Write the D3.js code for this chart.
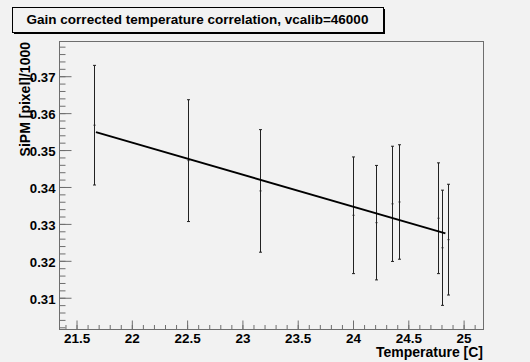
<!DOCTYPE html>
<html>
<head>
<meta charset="utf-8">
<script src="https://cdn.jsdelivr.net/npm/d3@7"></script>
<style>
  html, body { margin: 0; padding: 0; background: #f2f2f2; }
  svg { display: block; font-family: "Liberation Sans", Arial, sans-serif; font-weight: bold; }
</style>
</head>
<body>
<svg id="chart"></svg>
<script>
// measured points (temperature, gain corrected SiPM signal, error)
const temperature = [21.66, 22.51, 23.16, 24.00, 24.21, 24.36, 24.42, 24.77, 24.81, 24.86];
const sipm = [0.3566, 0.3470, 0.3388, 0.3322, 0.3302, 0.3353, 0.3358, 0.3314, 0.3234, 0.3256];
const sipmErr = [0.0162, 0.0165, 0.0166, 0.0158, 0.0155, 0.0156, 0.0155, 0.0150, 0.0156, 0.0150];

// linear fit drawn over the data range
const fitSlope = -0.00868;
const fitIntercept = 0.5429;
const fitRange = [21.68, 24.84];

const xTicks = [21.5, 22, 22.5, 23, 23.5, 24, 24.5, 25];
const yTicks = [0.31, 0.32, 0.33, 0.34, 0.35, 0.36, 0.37];
const xDomain = [21.346, 25.18];
const yDomain = [0.3014, 0.3794];

const title = "Gain corrected temperature correlation, vcalib=46000";
const xTitle = "Temperature [C]";
const yTitle = "SiPM [pixel]/1000";

const width = 530, height = 362;
const frame = {left: 59, top: 41, right: 483, bottom: 329};

const svg = d3.select("#chart").attr("width", width).attr("height", height);
svg.append("rect").attr("width", width).attr("height", height).attr("fill", "#f2f2f2");

const x = d3.scaleLinear().domain(xDomain).range([frame.left, frame.right]);
const y = d3.scaleLinear().domain(yDomain).range([frame.bottom, frame.top]);

// frame
svg.append("rect")
    .attr("x", frame.left + 0.5).attr("y", frame.top + 0.5)
    .attr("width", frame.right - frame.left).attr("height", frame.bottom - frame.top)
    .attr("fill", "none").attr("stroke", "#6e6e6e").attr("stroke-width", 1);

// minor ticks
const xMinor = d3.range(214, 252).map(d => d / 10).filter(d => d > xDomain[0] && d < xDomain[1]);
const yMinor = d3.range(151, 190).map(d => d / 500).filter(d => d > yDomain[0] && d < yDomain[1]);

const xAxisG = svg.append("g").attr("transform", `translate(0.5,${frame.bottom + 0.5})`);
xAxisG.append("g").call(d3.axisBottom(x).tickValues(xMinor).tickSize(-4.5).tickFormat(""));
const xMajor = xAxisG.append("g").call(d3.axisBottom(x).tickValues(xTicks).tickSize(-9).tickPadding(3.5)
    .tickFormat(d3.format("")));

const yAxisG = svg.append("g").attr("transform", `translate(${frame.left + 0.5},0.5)`);
yAxisG.append("g").call(d3.axisLeft(y).tickValues(yMinor).tickSize(-6).tickFormat(""));
const yMajor = yAxisG.append("g").call(d3.axisLeft(y).tickValues(yTicks).tickSize(-12).tickPadding(4)
    .tickFormat(d3.format(".2f")));

svg.selectAll(".domain").remove();
svg.selectAll(".tick line").attr("stroke", "#6e6e6e");
svg.selectAll(".tick text")
    .attr("fill", "#000").attr("font-weight", "bold")
    .attr("font-family", "'Liberation Sans', Arial, sans-serif");
xMajor.selectAll(".tick text").attr("font-size", 13.5);
yMajor.selectAll(".tick text").attr("font-size", 13.2).attr("dy", "0.42em");

// axis titles
svg.append("text")
    .attr("x", frame.right).attr("y", 357)
    .attr("text-anchor", "end").attr("font-size", 14)
    .text(xTitle);
svg.append("text")
    .attr("transform", `translate(30,${frame.top + 1}) rotate(-90)`)
    .attr("text-anchor", "end").attr("font-size", 14)
    .text(yTitle);

// error bars
const pts = temperature.map((t, i) => ({t: t, v: sipm[i], e: sipmErr[i]}));
const bars = svg.append("g").attr("stroke", "#222").attr("stroke-width", 1);
pts.forEach(d => {
    const cx = Math.round(x(d.t)) + 0.5;
    bars.append("line").attr("x1", cx).attr("x2", cx).attr("y1", y(d.v + d.e)).attr("y2", y(d.v - d.e));
    bars.append("line").attr("x1", cx - 1.5).attr("x2", cx + 1.5).attr("y1", y(d.v + d.e)).attr("y2", y(d.v + d.e));
    bars.append("line").attr("x1", cx - 1.5).attr("x2", cx + 1.5).attr("y1", y(d.v - d.e)).attr("y2", y(d.v - d.e));
    bars.append("line").attr("x1", cx - 1).attr("x2", cx + 1).attr("y1", y(d.v)).attr("y2", y(d.v));
});

// fit line
svg.append("line")
    .attr("x1", x(fitRange[0])).attr("y1", y(fitIntercept + fitSlope * fitRange[0]))
    .attr("x2", x(fitRange[1])).attr("y2", y(fitIntercept + fitSlope * fitRange[1]))
    .attr("stroke", "#000").attr("stroke-width", 2);

// title box with shadow
const tb = {x: 12, y: 7, w: 371, h: 25};
svg.append("rect").attr("x", tb.x + 2).attr("y", tb.y + 2).attr("width", tb.w).attr("height", tb.h).attr("fill", "#000");
svg.append("rect").attr("x", tb.x + 0.5).attr("y", tb.y + 0.5).attr("width", tb.w).attr("height", tb.h)
    .attr("fill", "#f2f2f2").attr("stroke", "#000").attr("stroke-width", 1);
svg.append("text")
    .attr("x", tb.x + tb.w / 2).attr("y", 24)
    .attr("text-anchor", "middle").attr("font-size", 13.5)
    .text(title);
</script>
</body>
</html>
